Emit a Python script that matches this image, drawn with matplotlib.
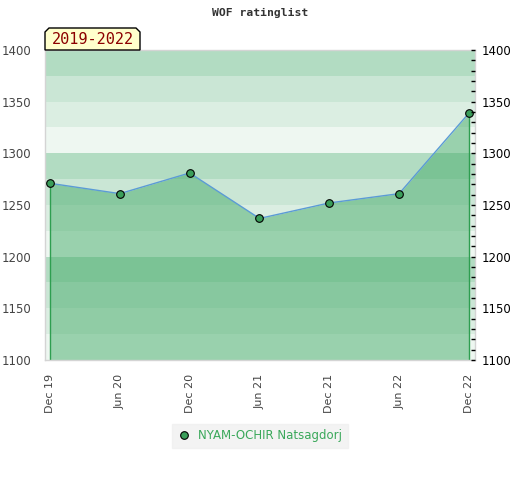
import matplotlib.pyplot as plt
from matplotlib.patches import Polygon

# data
dates = ['Dec 19', 'Jun 20', 'Dec 20', 'Jun 21', 'Dec 21', 'Jun 22', 'Dec 22']
ratings = [1271, 1261, 1281, 1237, 1252, 1261, 1339]
player = 'NYAM-OCHIR Natsagdorj'
period = '2019-2022'
band_colors = ['#b2dcc2', '#cae6d5', '#dbeee2', '#eef7f1']

fig = plt.figure(figsize=(5.2, 4.8), dpi=100)
ax = fig.add_axes([45 / 520, 1 - 360 / 480, 430 / 520, 310 / 480])

ymin, ymax = 1100, 1400
x = list(range(len(dates)))

# background bands, 25 points each, pattern repeating every 100
lo = ymax
i = 0
while lo > ymin:
    ax.axhspan(lo - 25, lo, color=band_colors[i % 4], lw=0, zorder=0)
    lo -= 25
    i += 1

# filled area under the rating line
ax.fill_between(x, ratings, ymin, color='#46ac6a', alpha=0.5, lw=0, zorder=1)
ax.vlines([x[0], x[-1]], ymin, [ratings[0], ratings[-1]], color='#2e9e50', lw=1, zorder=2)
ax.plot(x, ratings, color='#5b9bd5', lw=1, zorder=3)
ax.plot(x, ratings, 'o', ms=5.5, mfc='#3a9e5a', mec='black', mew=0.8, zorder=4,
        label=player)

ax.set_xlim(-0.0716, 6.086)
ax.set_ylim(ymin, ymax)
ax.set_xticks(x)
ax.set_xticklabels(dates, rotation=90, fontsize=8, color='#444444')
ax.tick_params(axis='x', length=0, pad=10)
ax.set_yticks(range(1100, 1401, 50))
ax.tick_params(axis='y', length=0, labelsize=8.5, labelcolor='#444444', pad=10)

for s in ax.spines.values():
    s.set_color('#d4d4d4')
    s.set_linewidth(1)

# right axis with minor ticks
ax2 = ax.twinx()
ax2.set_ylim(ymin, ymax)
ax2.set_yticks(range(1100, 1401, 50))
ax2.set_yticks(range(1100, 1401, 10), minor=True)
ax2.tick_params(axis='y', which='both', direction='in', length=3, width=1,
                color='black', labelsize=8.5, labelcolor='black', pad=5)
for s in ax2.spines.values():
    s.set_visible(False)

fig.text(0.5, 1 - 13 / 480, 'WOF ratinglist', ha='center', va='center',
         family='DejaVu Sans Mono', fontweight='bold', fontsize=8.2, color='#333333')

# period label box with cut top corners
bx0, bx1, by0, by1 = 45, 140, 50, 28
pts = [(bx0, by0), (bx0, by1 + 4), (bx0 + 4, by1), (bx1 - 4, by1), (bx1, by1 + 4), (bx1, by0)]
pts = [(px / 520, 1 - py / 480) for px, py in pts]
fig.patches.append(Polygon(pts, closed=True, transform=fig.transFigure,
                           fc='#ffffcc', ec='black', lw=1, zorder=5))
fig.text(92.5 / 520, 1 - 40 / 480, period, ha='center', va='center',
         family='DejaVu Sans Mono', fontsize=11, color='#8b0000', zorder=6)

leg = fig.legend(loc='center', bbox_to_anchor=(260 / 520, 1 - 436 / 480),
                 frameon=True, fontsize=8.5, handletextpad=0.7, borderpad=0.5,
                 fancybox=False, handlelength=1.0)
leg.get_frame().set_facecolor('#f0f0f0')
leg.get_frame().set_edgecolor('#f0f0f0')
for t in leg.get_texts():
    t.set_color('#3aa85a')

fig.savefig('out.png', dpi=100)
